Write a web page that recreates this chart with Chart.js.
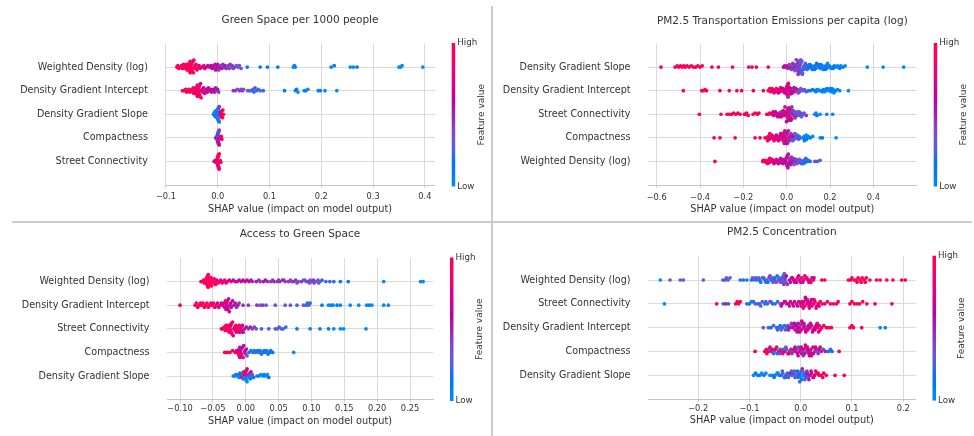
<!DOCTYPE html>
<html>
<head>
<meta charset="utf-8">
<script src="https://cdn.jsdelivr.net/npm/chart.js@4.4.0/dist/chart.umd.min.js"></script>
<style>
  html, body { margin: 0; padding: 0; background: #fff; }
  #wrap { position: relative; width: 974px; height: 436px; overflow: hidden; }
  #wrap canvas { position: absolute; }
  .rule { position: absolute; background: #cccccc; }
</style>
</head>
<body>
<div id="wrap">
  <canvas id="c1" width="492" height="218" style="left:0;top:0"></canvas>
  <canvas id="c2" width="482" height="218" style="left:492px;top:0"></canvas>
  <canvas id="c3" width="492" height="218" style="left:0;top:218px"></canvas>
  <canvas id="c4" width="482" height="218" style="left:492px;top:218px"></canvas>
  <div class="rule" style="left:491px;top:6px;width:2px;height:430px"></div>
  <div class="rule" style="left:12px;top:221px;width:960px;height:2px"></div>
</div>
<script>
// every point is [shap value, feature value 0 (low) .. 9 (high)]

// --- Green Space per 1000 people ---
var gsFeatures = ['Weighted Density (log)', 'Density Gradient Intercept', 'Density Gradient Slope', 'Compactness', 'Street Connectivity'];
var gsTicks = [-0.1, 0, 0.1, 0.2, 0.3, 0.4];
var gsTickLabels = ['\u22120.1', '0.0', '0.1', '0.2', '0.3', '0.4'];
var gsWeighted = [[-0.079,9],[-0.077,8],[-0.075,9],[-0.072,9],[-0.070,8],[-0.068,9],[-0.066,9],[-0.065,8],[-0.063,9],[-0.062,9],[-0.060,8],[-0.059,9],[-0.058,9],[-0.057,8],[-0.056,9],[-0.055,9],[-0.055,8],[-0.054,9],[-0.054,9],[-0.053,8],[-0.053,9],[-0.052,9],[-0.052,8],[-0.051,9],[-0.051,9],[-0.050,8],[-0.050,9],[-0.049,9],[-0.048,8],[-0.047,9],[-0.046,8],[-0.045,9],[-0.044,9],[-0.043,8],[-0.042,8],[-0.040,9],[-0.038,8],[-0.036,7],[-0.034,8],[-0.031,7],
  [-0.027,7],[-0.025,6],[-0.022,7],[-0.019,6],[-0.016,5],[-0.013,6],[-0.011,5],[-0.009,6],[-0.008,5],[-0.006,5],[-0.005,6],[-0.004,5],[-0.003,4],[-0.002,5],[-0.001,6],[0.000,5],[0.002,4],[0.004,5],[0.006,4],[0.008,5],[0.010,4],[0.012,4],[0.014,5],[0.016,4],[0.018,4],[0.020,3],[0.022,4],[0.024,4],[0.026,3],[0.028,4],[0.030,3],[0.033,4],[0.036,3],[0.039,3],[0.042,3],[0.045,3],
  [0.057,1],[0.082,1],[0.096,1],[0.116,1],[0.146,0],[0.148,1],[0.150,0],[0.219,0],[0.225,1],[0.256,0],[0.262,0],[0.269,1],[0.350,0],[0.353,0],[0.356,0],[0.396,0]];
var gsIntercept = [[-0.068,9],[-0.065,9],[-0.062,8],[-0.060,9],[-0.058,9],[-0.056,8],[-0.054,9],[-0.052,9],[-0.050,8],[-0.048,9],[-0.047,9],[-0.046,8],[-0.045,9],[-0.044,8],[-0.043,9],[-0.042,8],[-0.041,9],[-0.040,7],[-0.040,9],[-0.039,8],[-0.039,9],[-0.038,7],[-0.038,8],[-0.037,9],[-0.037,7],[-0.036,8],[-0.036,9],[-0.035,7],[-0.035,8],[-0.034,9],[-0.033,7],[-0.032,8],[-0.031,7],[-0.030,6],[-0.029,7],
  [-0.027,6],[-0.025,7],[-0.023,6],[-0.021,6],[-0.020,5],[-0.018,6],[-0.016,5],[-0.014,6],[-0.012,5],[-0.010,5],[-0.008,6],[-0.006,5],[-0.004,5],[-0.002,4],[0.000,5],[0.002,4],
  [0.030,4],[0.034,4],[0.038,3],[0.042,4],[0.045,3],[0.048,4],[0.050,3],[0.058,3],[0.062,2],[0.066,3],[0.068,2],[0.070,2],[0.072,3],[0.075,2],[0.078,2],[0.082,2],[0.088,2],
  [0.129,1],[0.150,0],[0.152,1],[0.155,0],[0.167,0],[0.170,1],[0.174,0],[0.194,0],[0.198,1],[0.207,0],[0.230,0]];
var gsSlope = [[-0.008,1],[-0.007,0],[-0.006,1],[-0.006,0],[-0.005,1],[-0.005,0],[-0.004,1],[-0.004,0],[-0.003,2],[-0.003,0],[-0.003,1],[-0.002,0],[-0.002,1],[-0.002,2],[-0.001,0],[-0.001,1],[-0.001,0],[0.000,1],[0.000,2],[0.000,0],[0.001,1],[0.001,3],[0.001,0],[0.002,2],[0.002,1],[0.003,4],[0.003,2],[0.004,6],[0.004,3],[0.005,7],[0.005,5],[0.006,8],[0.006,6],[0.007,9],[0.008,8],[0.009,9],[0.010,8],[0.011,9]];
var gsCompactness = [[-0.004,5],[-0.003,4],[-0.002,5],[-0.002,6],[-0.001,4],[-0.001,5],[-0.001,2],[0.000,5],[0.000,4],[0.000,1],[0.000,6],[0.000,5],[0.001,2],[0.001,5],[0.001,4],[0.001,6],[0.001,1],[0.002,5],[0.002,4],[0.002,6],[0.002,2],[0.003,5],[0.003,4],[0.004,6],[0.005,7],[0.006,8],[0.007,9],[0.008,8]];
var gsStreet = [[-0.007,4],[-0.005,5],[-0.004,6],[-0.003,7],[-0.002,8],[-0.002,6],[-0.001,9],[-0.001,7],[-0.001,8],[0.000,9],[0.000,7],[0.000,8],[0.000,9],[0.001,8],[0.001,9],[0.001,7],[0.001,9],[0.002,8],[0.002,9],[0.002,7],[0.003,9],[0.003,8],[0.004,9],[0.005,8],[0.006,9]];

// --- PM2.5 Transportation Emissions per capita (log) ---
var teFeatures = ['Density Gradient Slope', 'Density Gradient Intercept', 'Street Connectivity', 'Compactness', 'Weighted Density (log)'];
var teTicks = [-0.6, -0.4, -0.2, 0, 0.2, 0.4];
var teTickLabels = ['\u22120.6', '\u22120.4', '\u22120.2', '0.0', '0.2', '0.4'];
var teSlope = [[-0.580,9],[-0.515,9],[-0.505,8],[-0.498,9],[-0.490,9],[-0.482,8],[-0.475,9],[-0.468,9],[-0.460,8],[-0.450,9],[-0.440,9],[-0.430,8],[-0.420,9],[-0.410,9],[-0.400,8],[-0.390,9],[-0.345,9],[-0.315,8],[-0.250,9],[-0.175,8],[-0.160,9],[-0.140,8],[-0.085,9],
  [-0.015,6],[-0.010,5],[-0.005,6],[0.000,5],[0.005,4],[0.010,5],[0.015,4],[0.020,5],[0.025,4],[0.030,3],[0.033,5],[0.036,4],[0.040,3],[0.042,5],[0.045,4],[0.047,3],[0.048,4],[0.050,4],[0.051,3],[0.052,3],[0.054,5],[0.055,4],[0.056,3],[0.057,4],[0.058,4],[0.059,5],[0.060,3],[0.061,3],[0.062,2],[0.063,4],[0.064,4],[0.066,3],[0.068,2],[0.070,3],[0.073,2],[0.076,3],[0.080,2],[0.084,3],[0.088,2],[0.092,1],[0.096,2],[0.100,1],[0.105,2],
  [0.110,1],[0.115,2],[0.120,1],[0.125,0],[0.130,1],[0.135,2],[0.140,1],[0.145,0],[0.150,1],[0.155,2],[0.160,1],[0.165,0],[0.170,1],[0.175,0],[0.180,2],[0.185,1],[0.190,0],[0.200,1],[0.210,0],[0.220,1],[0.230,0],[0.240,1],[0.250,0],[0.260,1],[0.270,0],
  [0.372,0],[0.445,0],[0.540,0],
  [0.012,4],[0.022,4],[0.028,4],[0.038,3],[0.044,4],[0.053,4],[0.065,3],[0.072,3],[0.078,2],[0.086,2],[0.094,2],[0.108,1],[0.118,1],[0.128,1],[0.138,1],[0.148,1],[0.158,1],[0.168,0],[0.178,1],[0.188,0],[0.195,1],[0.205,0],[0.215,1],[0.235,0],[0.245,1]];
var teIntercept = [[-0.477,9],[-0.392,9],[-0.385,8],[-0.377,9],[-0.370,9],[-0.308,9],[-0.265,8],[-0.230,9],[-0.208,9],[-0.154,9],[-0.108,8],
  [-0.085,9],[-0.080,7],[-0.075,9],[-0.070,8],[-0.065,6],[-0.060,9],[-0.055,7],[-0.050,8],[-0.045,5],[-0.040,9],[-0.035,6],[-0.030,8],[-0.025,5],[-0.020,7],[-0.016,9],[-0.012,5],[-0.008,8],[-0.007,7],[-0.005,6],[-0.003,5],[-0.002,9],[0.000,5],[0.001,8],[0.002,7],[0.003,6],[0.004,8],[0.005,9],[0.006,5],[0.007,4],[0.008,9],[0.010,6],[0.013,7],[0.016,5],[0.020,8],[0.024,5],[0.028,6],[0.032,4],[0.036,7],[0.040,5],[0.045,4],
  [0.050,4],[0.056,3],[0.062,4],[0.068,2],[0.075,3],[0.082,2],[0.090,3],[0.100,1],[0.110,2],[0.120,1],
  [0.130,1],[0.140,0],[0.150,1],[0.160,0],[0.170,1],[0.180,0],[0.190,1],[0.195,0],[0.200,1],[0.205,0],[0.210,1],[0.215,0],[0.220,0],[0.225,1],[0.235,0],[0.245,0],[0.285,0],
  [-0.078,9],[-0.068,8],[-0.058,7],[-0.048,9],[-0.038,6],[-0.028,8],[-0.018,6],[-0.010,7],[0.012,6],[0.018,5],[0.026,6],[0.034,5],[0.042,5],[0.053,4],[0.059,3],[0.065,3],[0.135,1],[0.145,0],[0.165,1],[0.175,0],[0.185,1],[0.198,0],[0.208,1],[0.218,0]];
var teStreet = [[-0.403,9],[-0.303,9],[-0.275,9],[-0.265,8],[-0.255,9],[-0.245,9],[-0.235,8],[-0.225,9],[-0.215,9],[-0.195,9],[-0.190,8],[-0.185,9],[-0.178,9],[-0.155,9],[-0.145,8],[-0.135,9],[-0.128,9],[-0.092,9],[-0.085,8],[-0.078,9],[-0.070,8],
  [-0.065,6],[-0.060,8],[-0.055,5],[-0.050,7],[-0.045,4],[-0.040,8],[-0.035,5],[-0.030,6],[-0.026,4],[-0.022,7],[-0.018,5],[-0.014,8],[-0.010,4],[-0.006,6],[-0.003,9],[0.000,5],[0.001,6],[0.002,7],[0.003,8],[0.004,4],[0.005,5],[0.006,8],[0.007,9],[0.008,5],[0.009,4],[0.010,6],[0.011,7],[0.012,4],[0.014,7],[0.016,5],[0.018,8],[0.020,4],[0.022,6],[0.025,3],[0.028,5],[0.032,4],[0.036,3],[0.040,5],[0.045,3],[0.050,4],[0.055,2],[0.060,3],[0.065,4],[0.070,2],[0.075,3],[0.080,2],[0.090,4],
  [0.130,1],[0.135,0],[0.140,1],[0.154,0],[0.185,0],[0.212,0],
  [-0.062,7],[-0.052,6],[-0.042,7],[-0.032,5],[-0.024,6],[-0.016,7],[-0.008,5],[-0.001,6],[0.013,6],[0.019,5],[0.024,4],[0.030,4],[0.038,4],[0.048,3],[0.058,3],[0.068,3]];
var teCompactness = [[-0.335,9],[-0.308,9],[-0.238,9],[-0.146,9],[-0.123,8],[-0.100,9],[-0.090,8],[-0.085,9],[-0.080,7],[-0.075,9],[-0.070,6],[-0.065,8],[-0.060,9],[-0.055,5],[-0.050,8],[-0.045,6],[-0.040,9],[-0.035,5],[-0.030,7],[-0.026,8],[-0.022,4],[-0.019,7],[-0.018,9],[-0.016,5],[-0.015,6],[-0.013,9],[-0.012,8],[-0.011,6],[-0.010,5],[-0.009,8],[-0.008,7],[-0.006,5],[-0.005,9],[-0.002,4],[0.000,6],[0.003,8],[0.006,4],[0.010,5],[0.014,7],[0.018,3],[0.022,5],[0.026,4],[0.030,6],[0.035,3],[0.040,4],[0.045,2],[0.050,3],[0.055,2],[0.062,3],
  [0.075,1],[0.080,0],[0.085,1],[0.090,0],[0.095,1],[0.100,0],[0.110,1],[0.120,0],[0.155,0],[0.165,1],[0.228,0],
  [-0.088,9],[-0.078,8],[-0.068,7],[-0.058,8],[-0.048,6],[-0.038,7],[-0.028,6],[-0.004,5],[0.002,6],[0.008,5],[0.012,4],[0.020,4],[0.028,3],[0.038,3],[0.048,2],[0.058,2],[0.082,1],[0.092,1]];
var teWeighted = [[-0.331,9],[-0.110,9],[-0.105,8],[-0.100,9],[-0.090,8],[-0.085,9],[-0.080,7],[-0.075,8],[-0.070,9],[-0.065,6],[-0.060,8],[-0.055,5],[-0.050,7],[-0.045,6],[-0.040,8],[-0.035,5],[-0.030,6],[-0.025,4],[-0.020,7],[-0.016,5],[-0.012,6],[-0.010,6],[-0.008,4],[-0.007,5],[-0.005,7],[-0.003,6],[-0.002,5],[-0.001,4],[0.000,6],[0.001,7],[0.002,4],[0.003,5],[0.004,6],[0.005,7],[0.006,5],[0.008,5],[0.012,6],[0.016,4],[0.020,5],[0.024,6],[0.028,4],[0.032,5],[0.036,3],[0.040,4],[0.045,5],[0.050,3],[0.055,4],[0.060,2],[0.065,3],[0.070,2],[0.075,3],[0.080,2],[0.085,1],[0.090,2],[0.095,1],[0.100,2],[0.108,1],[0.130,3],[0.142,2],[0.154,3],
  [-0.108,9],[-0.095,8],[-0.088,7],[-0.078,8],[-0.068,7],[-0.058,6],[-0.048,7],[-0.038,6],[-0.028,5],[-0.018,6],[0.010,5],[0.014,4],[0.018,5],[0.022,4],[0.026,5],[0.030,4],[0.034,3],[0.042,4],[0.048,3],[0.058,3],[0.068,2],[0.078,2],[0.088,2]];

// --- Access to Green Space ---
var agFeatures = ['Weighted Density (log)', 'Density Gradient Intercept', 'Street Connectivity', 'Compactness', 'Density Gradient Slope'];
var agTicks = [-0.1, -0.05, 0, 0.05, 0.1, 0.15, 0.2, 0.25];
var agTickLabels = ['\u22120.10', '\u22120.05', '0.00', '0.05', '0.10', '0.15', '0.20', '0.25'];
var agWeighted = [[-0.068,9],[-0.066,9],[-0.064,8],[-0.063,9],[-0.062,9],[-0.061,8],[-0.060,9],[-0.060,9],[-0.059,8],[-0.059,9],[-0.058,9],[-0.058,8],[-0.057,9],[-0.057,9],[-0.056,8],[-0.056,9],[-0.055,9],[-0.055,8],[-0.054,9],[-0.053,8],[-0.052,9],[-0.051,9],[-0.050,8],[-0.049,9],[-0.048,8],[-0.046,9],[-0.045,8],[-0.044,7],[-0.042,9],[-0.040,8],[-0.038,7],[-0.036,8],[-0.034,7],[-0.032,8],[-0.030,7],
  [-0.028,7],[-0.025,6],[-0.022,7],[-0.019,6],[-0.016,6],[-0.013,5],[-0.010,6],[-0.007,5],[-0.004,5],[-0.001,6],[0.002,5],
  [0.005,5],[0.010,4],[0.016,5],[0.022,4],[0.027,5],[0.033,4],[0.038,4],[0.043,5],[0.048,4],[0.052,4],[0.056,5],[0.060,4],[0.065,4],[0.070,3],[0.073,4],[0.076,4],[0.080,3],[0.085,4],[0.088,3],[0.092,3],[0.095,4],[0.098,3],[0.100,3],[0.103,4],[0.106,3],[0.110,3],[0.113,3],[0.116,2],
  [0.122,2],[0.128,2],[0.134,2],[0.144,1],[0.156,1],[0.210,0],[0.266,0],[0.270,0],
  [0.008,5],[0.020,4],[0.030,5],[0.041,4],[0.050,4],[0.058,4],[0.068,4],[0.078,3],[0.090,3],[0.097,3],[0.104,3],[0.111,3]];
var agIntercept = [[-0.100,9],[-0.077,9],[-0.075,8],[-0.073,9],[-0.071,9],[-0.069,8],[-0.067,9],[-0.065,9],[-0.063,8],[-0.061,9],[-0.059,9],[-0.057,8],[-0.055,9],[-0.053,8],[-0.051,9],[-0.049,8],
  [-0.047,7],[-0.045,8],[-0.043,6],[-0.041,7],[-0.039,8],[-0.037,6],[-0.035,7],[-0.033,5],[-0.032,6],[-0.031,8],[-0.030,5],[-0.029,6],[-0.029,7],[-0.028,5],[-0.028,8],[-0.027,6],[-0.026,5],[-0.025,7],[-0.024,5],[-0.023,6],[-0.022,5],[-0.020,6],[-0.018,5],[-0.016,5],[-0.014,4],[-0.012,5],[-0.010,4],
  [-0.004,4],[0.004,4],[0.017,4],[0.022,3],[0.026,4],[0.031,3],[0.045,3],[0.060,3],[0.068,3],[0.078,2],[0.088,3],[0.092,2],[0.094,2],[0.096,2],[0.098,2],
  [0.116,1],[0.126,0],[0.130,1],[0.133,0],[0.139,1],[0.144,0],[0.159,0],[0.172,0],[0.184,0],[0.188,1],[0.192,0],[0.210,0],[0.217,0]];
var agStreet = [[-0.037,9],[-0.035,8],[-0.033,9],[-0.031,8],[-0.030,9],[-0.029,7],[-0.028,9],[-0.027,8],[-0.026,9],[-0.025,7],[-0.024,9],[-0.024,8],[-0.023,9],[-0.023,6],[-0.022,8],[-0.022,9],[-0.021,7],[-0.020,9],[-0.019,8],[-0.018,9],[-0.017,6],[-0.016,8],[-0.015,9],[-0.014,7],[-0.013,8],[-0.012,9],[-0.011,7],[-0.010,8],[-0.009,6],[-0.008,8],[-0.007,7],[-0.006,6],[-0.005,7],[-0.004,6],
  [-0.002,5],[0.001,5],[0.004,4],[0.007,5],[0.010,4],[0.013,4],[0.016,3],
  [0.024,2],[0.035,2],[0.045,2],[0.048,3],[0.051,2],[0.054,3],[0.057,2],[0.061,2],[0.078,1],[0.098,1],[0.113,1],[0.126,1],[0.134,0],[0.144,0],[0.149,0],[0.183,0]];
var agCompactness = [[-0.032,9],[-0.028,9],[-0.024,8],[-0.020,9],[-0.016,8],[-0.014,7],[-0.013,9],[-0.012,6],[-0.011,8],[-0.010,5],[-0.010,9],[-0.009,7],[-0.009,5],[-0.008,8],[-0.008,6],[-0.007,9],[-0.007,5],[-0.006,7],[-0.005,6],[-0.004,8],[-0.003,5],[-0.002,4],[-0.001,6],[0.000,4],[0.001,5],[0.002,3],
  [0.005,2],[0.008,1],[0.011,2],[0.013,1],[0.015,2],[0.018,1],[0.020,2],[0.022,1],[0.024,1],[0.026,2],[0.028,1],[0.030,1],[0.032,2],[0.034,1],[0.036,1],[0.038,1],[0.041,1],[0.073,0]];
var agSlope = [[-0.019,1],[-0.017,0],[-0.015,1],[-0.013,0],[-0.011,1],[-0.010,0],[-0.009,2],[-0.008,0],[-0.007,1],[-0.006,8],[-0.005,0],[-0.004,2],[-0.003,9],[-0.002,0],[-0.002,6],[-0.001,1],[-0.001,8],[0.000,0],[0.000,9],[0.001,2],[0.001,7],[0.002,0],[0.002,5],[0.003,1],[0.004,8],[0.005,0],[0.006,4],[0.007,1],[0.008,6],[0.009,0],[0.010,3],[0.012,1],
  [0.017,0],[0.020,1],[0.023,0],[0.026,0],[0.028,1],[0.030,0],[0.033,0],[0.035,1]];

// --- PM2.5 Concentration ---
var pcFeatures = ['Weighted Density (log)', 'Street Connectivity', 'Density Gradient Intercept', 'Compactness', 'Density Gradient Slope'];
var pcTicks = [-0.2, -0.1, 0, 0.1, 0.2];
var pcTickLabels = ['\u22120.2', '\u22120.1', '0.0', '0.1', '0.2'];
var pcWeighted = [[-0.274,0],[-0.255,3],[-0.235,3],[-0.229,3],[-0.190,3],[-0.152,3],[-0.148,2],[-0.145,3],[-0.142,2],[-0.138,3],[-0.118,2],[-0.112,1],[-0.105,2],[-0.096,1],[-0.090,3],[-0.085,2],[-0.080,1],[-0.075,3],[-0.070,1],[-0.066,2],[-0.062,3],[-0.058,1],[-0.055,2],[-0.052,4],[-0.050,1],[-0.048,3],[-0.046,2],[-0.044,4],[-0.042,1],[-0.040,3],[-0.038,2],[-0.036,4],[-0.035,3],[-0.034,1],[-0.033,4],[-0.032,3],[-0.031,2],[-0.030,4],[-0.029,3],[-0.028,5],[-0.026,4],
  [-0.022,6],[-0.018,5],[-0.014,7],[-0.010,6],[-0.006,8],[-0.002,6],[0.002,8],[0.006,7],[0.010,8],[0.014,6],[0.018,8],[0.022,7],[0.025,8],[0.026,5],[0.041,9],[0.047,8],
  [0.093,9],[0.097,8],[0.100,9],[0.104,9],[0.108,8],[0.112,9],[0.116,9],[0.120,8],[0.124,9],[0.128,9],[0.135,8],[0.148,9],[0.155,9],[0.168,9],[0.180,8],[0.197,9],[0.204,9],
  [-0.094,3],[-0.088,2],[-0.082,3],[-0.078,1],[-0.072,2],[-0.068,3],[-0.064,1],[-0.060,4],[-0.054,3],[-0.020,5],[-0.016,6],[-0.012,5],[-0.008,7],[-0.004,6],[0.000,7],[0.004,5],[0.008,7],[0.012,8],[0.016,6],[0.020,8],[0.110,9],[0.118,8],[0.126,9]];
var pcStreet = [[-0.266,0],[-0.164,9],[-0.151,1],[-0.146,9],[-0.141,1],[-0.127,9],[-0.124,8],[-0.121,9],[-0.118,8],[-0.105,1],[-0.100,2],[-0.096,1],[-0.089,3],[-0.084,1],[-0.080,2],[-0.075,3],[-0.070,1],[-0.065,2],[-0.060,3],[-0.055,1],[-0.050,2],
  [-0.040,3],[-0.036,6],[-0.032,7],[-0.028,4],[-0.024,6],[-0.020,7],[-0.016,5],[-0.012,7],[-0.008,4],[-0.004,8],[0.000,6],[0.002,7],[0.004,5],[0.006,7],[0.008,8],[0.010,6],[0.012,7],[0.014,5],[0.016,8],[0.018,6],[0.020,7],[0.022,6],[0.025,8],[0.028,7],[0.031,8],[0.034,6],[0.038,9],
  [0.047,9],[0.052,8],[0.058,9],[0.064,7],[0.070,9],[0.073,8],[0.096,9],[0.100,9],[0.105,8],[0.110,9],[0.115,9],[0.121,8],[0.129,9],[0.145,9],[0.178,9],
  [-0.092,2],[-0.078,3],[-0.068,2],[-0.058,3],[-0.045,2],[-0.038,5],[-0.030,7],[-0.022,5],[-0.014,8],[-0.006,6],[0.001,7],[0.005,8],[0.009,6],[0.013,7],[0.017,8],[0.021,6],[0.026,7],[0.030,8],[0.036,6],[0.042,9]];
var pcIntercept = [[-0.073,3],[-0.063,2],[-0.058,1],[-0.053,3],[-0.047,1],[-0.043,2],[-0.040,1],[-0.036,3],[-0.032,1],[-0.028,2],
  [-0.025,4],[-0.022,6],[-0.019,3],[-0.016,6],[-0.013,5],[-0.011,7],[-0.009,4],[-0.008,6],[-0.006,7],[-0.005,5],[-0.003,6],[-0.001,4],[0.001,7],[0.003,5],[0.005,8],[0.007,5],[0.009,6],[0.012,4],[0.015,7],[0.018,6],[0.021,8],[0.024,5],[0.027,7],[0.030,6],[0.033,8],[0.036,5],[0.038,7],
  [0.041,9],[0.045,8],[0.050,9],[0.055,9],[0.060,8],[0.096,9],[0.100,8],[0.103,9],[0.119,9],[0.155,0],[0.165,0],
  [-0.045,2],[-0.038,3],[-0.030,2],[-0.024,5],[-0.018,4],[-0.012,6],[-0.007,5],[-0.002,6],[0.002,7],[0.006,5],[0.010,6],[0.014,7],[0.019,5],[0.023,7],[0.028,6],[0.032,8],[0.035,7]];
var pcCompactness = [[-0.089,9],[-0.070,9],[-0.067,8],[-0.064,9],[-0.061,2],[-0.058,9],[-0.055,7],[-0.052,1],[-0.049,8],[-0.046,2],[-0.043,9],[-0.040,1],[-0.037,8],[-0.034,3],[-0.031,9],[-0.028,2],[-0.025,7],[-0.022,4],[-0.019,8],[-0.016,3],[-0.013,6],[-0.010,7],[-0.008,4],[-0.006,6],[-0.004,2],[-0.002,8],[0.000,5],[0.002,6],[0.004,3],[0.006,7],[0.008,5],[0.010,8],[0.012,4],[0.014,6],[0.016,7],[0.018,5],[0.020,8],[0.022,5],[0.024,7],[0.027,3],[0.030,6],[0.033,2],[0.036,7],[0.040,8],[0.044,1],[0.048,8],[0.054,1],[0.058,2],[0.061,1],[0.075,9],
  [-0.066,9],[-0.060,8],[-0.053,2],[-0.047,9],[-0.041,2],[-0.035,8],[-0.029,3],[-0.023,7],[-0.017,4],[-0.011,6],[-0.005,5],[0.001,6],[0.005,4],[0.009,7],[0.013,5],[0.017,6],[0.021,7],[0.025,5],[0.029,6],[0.034,4],[0.038,7]];
var pcSlope = [[-0.092,0],[-0.088,1],[-0.084,0],[-0.080,1],[-0.076,0],[-0.072,1],[-0.068,0],[-0.055,1],[-0.050,0],[-0.046,1],[-0.042,2],[-0.038,1],[-0.035,3],[-0.032,2],[-0.029,4],[-0.026,1],[-0.023,3],[-0.020,5],[-0.017,2],[-0.014,4],[-0.011,1],[-0.009,3],[-0.007,0],[-0.005,2],[-0.003,4],[-0.001,1],[0.000,0],[0.001,3],[0.002,1],[0.003,5],[0.005,0],[0.007,2],[0.009,4],[0.011,1],[0.013,6],[0.015,3],[0.018,7],[0.021,5],[0.024,8],[0.027,6],[0.031,9],[0.036,8],[0.040,9],[0.045,9],[0.050,8],[0.067,9],[0.085,9],
  [-0.060,0],[-0.052,1],[-0.044,0],[-0.036,2],[-0.030,1],[-0.024,3],[-0.018,2],[-0.012,3],[-0.006,1],[-0.002,2],[0.004,3],[0.008,2],[0.012,4],[0.016,5],[0.020,6],[0.025,7],[0.029,8],[0.034,9],[0.043,8]];

var FONT = "'DejaVu Sans', sans-serif";
var INK = '#333333';

var PANELS = [
  { id: 'c1', title: 'Green Space per 1000 people', features: gsFeatures, ticks: gsTicks, tickLabels: gsTickLabels,
    rows: [gsWeighted, gsIntercept, gsSlope, gsCompactness, gsStreet],
    box: { w: 492, h: 218, left: 165.4, right: 434.7, top: 43.5, bottom: 185, titleY: 20, tickY: 196.7, labelY: 209.3, xmin: -0.101, xmax: 0.419 } },
  { id: 'c2', title: 'PM2.5 Transportation Emissions per capita (log)', features: teFeatures, ticks: teTicks, tickLabels: teTickLabels,
    rows: [teSlope, teIntercept, teStreet, teCompactness, teWeighted],
    box: { w: 482, h: 218, left: 156, right: 424.7, top: 43.5, bottom: 185, titleY: 21.5, tickY: 197.5, labelY: 209.7, xmin: -0.64, xmax: 0.60 } },
  { id: 'c3', title: 'Access to Green Space', features: agFeatures, ticks: agTicks, tickLabels: agTickLabels,
    rows: [agWeighted, agIntercept, agStreet, agCompactness, agSlope],
    box: { w: 492, h: 218, left: 167, right: 433, top: 40, bottom: 181.6, titleY: 16.3, tickY: 191.3, labelY: 203, xmin: -0.1198, xmax: 0.285 } },
  { id: 'c4', title: 'PM2.5 Concentration', features: pcFeatures, ticks: pcTicks, tickLabels: pcTickLabels,
    rows: [pcWeighted, pcStreet, pcIntercept, pcCompactness, pcSlope],
    box: { w: 482, h: 218, left: 156, right: 423.5, top: 38.2, bottom: 181.1, titleY: 14.7, tickY: 190.7, labelY: 202, xmin: -0.298, xmax: 0.224 } }
];

// shap's red_blue map: lch interpolation, lightness dips in the middle
function lab2rgb(L, a, b) {
  var e = 6 / 29;
  function finv(t) { return t > e ? t * t * t : 3 * e * e * (t - 4 / 29); }
  var fy = (L + 16) / 116;
  var X = 0.95047 * finv(fy + a / 500), Y = finv(fy), Z = 1.08883 * finv(fy - b / 200);
  var rgb = [3.2406 * X - 1.5372 * Y - 0.4986 * Z, -0.9689 * X + 1.8758 * Y + 0.0415 * Z, 0.0557 * X - 0.2040 * Y + 1.0570 * Z];
  return 'rgb(' + rgb.map(function (c) {
    c = c <= 0.0031308 ? 12.92 * c : 1.055 * Math.pow(Math.max(c, 0), 1 / 2.4) - 0.055;
    return Math.round(Math.max(0, Math.min(1, c)) * 255);
  }).join(',') + ')';
}
function shapColor(t) {
  var L = t < 0.5 ? 54 - 28 * t : 40 + 28 * (t - 0.5);
  var C = 70 + 20 * t;
  var H = 4.6588 + (0.35470565 + 2 * Math.PI - 4.6588) * t;
  return lab2rgb(L, C * Math.cos(H), C * Math.sin(H));
}

// beeswarm stacking like shap: bin by value, alternate up/down, scale to row height
function swarm(points, yCenter, binW) {
  var bins = points.map(function (p) { return Math.round(p[0] / binW); });
  var order = points.map(function (p, i) { return i; });
  order.sort(function (a, b) { return bins[a] - bins[b] || a - b; });
  var off = [], layer = 0, last = null;
  order.forEach(function (i) {
    if (bins[i] !== last) layer = 0;
    off[i] = Math.ceil(layer / 2) * ((layer % 2) * 2 - 1);
    layer++;
    last = bins[i];
  });
  var maxOff = 0;
  off.forEach(function (o) { maxOff = Math.max(maxOff, Math.abs(o)); });
  var step = 0.36 / (maxOff + 1);
  return points.map(function (p, i) { return { x: p[0], y: yCenter + off[i] * step }; });
}

var colorbar = {
  id: 'colorbar',
  afterDraw: function (chart) {
    var ctx = chart.ctx, a = chart.chartArea;
    var x = a.right + 17, top = a.top - 0.5, bottom = a.bottom + 1.5;
    var g = ctx.createLinearGradient(0, bottom, 0, top);
    for (var i = 0; i <= 20; i++) g.addColorStop(i / 20, shapColor(i / 20));
    ctx.save();
    ctx.fillStyle = g;
    ctx.fillRect(x, top, 3.5, bottom - top);
    ctx.fillStyle = INK;
    ctx.font = '8.7px ' + FONT;
    ctx.textAlign = 'left';
    ctx.textBaseline = 'middle';
    ctx.fillText('High', x + 5.5, top);
    ctx.fillText('Low', x + 5.5, bottom);
    ctx.translate(a.right + 46.5, (top + bottom) / 2);
    ctx.rotate(-Math.PI / 2);
    ctx.textAlign = 'center';
    ctx.font = '9px ' + FONT;
    ctx.fillText('Feature value', 0, 0);
    ctx.restore();
  }
};

PANELS.forEach(function (p) {
  var b = p.box;
  var binW = (b.xmax - b.xmin) / 75;
  var datasets = p.rows.map(function (row, r) {
    return {
      data: swarm(row, 4 - r, binW),
      pointBackgroundColor: row.map(function (pt) { return shapColor(pt[1] / 9); }),
      pointBorderWidth: 0,
      pointRadius: 1.85,
      pointHoverRadius: 1.85
    };
  });

  new Chart(document.getElementById(p.id), {
    type: 'scatter',
    data: { datasets: datasets },
    options: {
      responsive: false,
      animation: false,
      devicePixelRatio: 1,
      events: [],
      layout: { padding: { left: 0, right: b.w - b.right, top: 0, bottom: 0 } },
      plugins: {
        legend: { display: false },
        tooltip: { enabled: false },
        title: {
          display: true,
          text: p.title,
          fullSize: false,
          color: INK,
          font: { family: FONT, size: 10.5, weight: 'normal', lineHeight: 1.2 },
          padding: { top: b.titleY - 6.3, bottom: b.top - b.titleY - 6.3 }
        }
      },
      scales: {
        x: {
          type: 'linear',
          min: b.xmin,
          max: b.xmax,
          afterFit: function (s) { s.height = b.h - b.bottom; },
          afterBuildTicks: function (s) { s.ticks = p.ticks.map(function (v) { return { value: v }; }); },
          ticks: {
            callback: function (v, i) { return p.tickLabels[i]; },
            autoSkip: false,
            maxRotation: 0,
            color: INK,
            font: { family: FONT, size: 8.25, lineHeight: 1.2 },
            padding: b.tickY - b.bottom - 3 - 4.95
          },
          grid: { color: '#dadada', lineWidth: 1, tickLength: 3, tickColor: '#cfcfcf' },
          border: { display: true, color: '#c4c4c4', width: 1 },
          title: {
            display: true,
            text: 'SHAP value (impact on model output)',
            color: INK,
            font: { family: FONT, size: 9.75, lineHeight: 1.2 },
            padding: { top: 0, bottom: b.h - b.labelY - 5.85 }
          }
        },
        y: {
          type: 'linear',
          min: -1,
          max: 5,
          afterFit: function (s) { s.width = b.left; },
          afterBuildTicks: function (s) { s.ticks = [0, 1, 2, 3, 4].map(function (v) { return { value: v }; }); },
          ticks: {
            callback: function (v) { return p.features[4 - v]; },
            color: INK,
            font: { family: FONT, size: 9.6 },
            padding: 17.5
          },
          grid: { color: '#dadada', lineWidth: 1, drawTicks: false },
          border: { display: false }
        }
      }
    },
    plugins: [colorbar]
  });
});
</script>
</body>
</html>
